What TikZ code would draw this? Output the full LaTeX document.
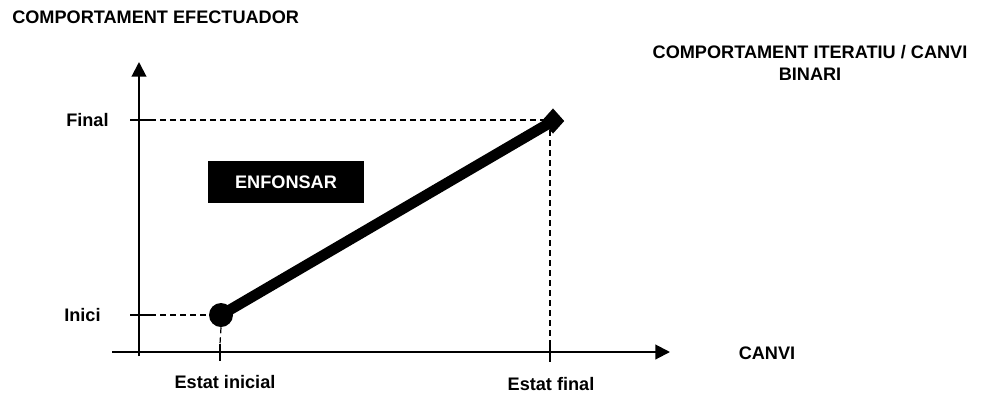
\documentclass[tikz,border=0pt]{standalone}
\usepackage{fontspec}
\setmainfont{Liberation Sans}
\usetikzlibrary{arrows.meta,shapes.geometric}
\begin{document}
\begin{tikzpicture}[x=0.75pt,y=-0.75pt,
  lbl/.style={font=\fontsize{13.6}{16}\selectfont\bfseries, inner sep=0pt},
  axis/.style={line width=1.5pt, -{Triangle[length=11pt,width=11pt]}},
  tickmark/.style={line width=2.2pt},
  guide/.style={line width=0.9pt, dash pattern=on 4.5pt off 3pt},
  pathline/.style={line width=8pt},
  startdot/.style={circle, fill=black, minimum size=18pt, inner sep=0pt},
  enddot/.style={diamond, fill=black, minimum width=17pt, minimum height=19pt, inner sep=0pt},
  tagbox/.style={fill=black, text=white, minimum width=117pt, minimum height=31pt, inner sep=0pt}]
\useasboundingbox (0,0) rectangle (982,394);

% axes
\coordinate (ybot) at (139,356);
\coordinate (ytop) at (139,62);
\coordinate (xleft) at (112,352);
\coordinate (xright) at (670,352);
\draw[axis] (ybot) -- (ytop);
\draw[axis] (xleft) -- (xright);

% tick marks
\coordinate (tfa) at (130,120); \coordinate (tfb) at (150,120);
\coordinate (tia) at (130,315); \coordinate (tib) at (150,315);
\coordinate (tsa) at (220,344); \coordinate (tsb) at (220,361);
\coordinate (tea) at (550,344); \coordinate (teb) at (550,362);
\draw[tickmark] (tfa) -- (tfb);
\draw[tickmark] (tia) -- (tib);
\draw[tickmark] (tsa) -- (tsb);
\draw[tickmark] (tea) -- (teb);

% start and end states
\node[startdot] (start) at (221,315) {};
\node[enddot] (end) at (553,121) {};

% guide lines
\coordinate (gend) at (550,120);
\draw[guide] (tfb) -- (gend);
\draw[guide] (gend) -- (tea);
\draw[guide] (tib) -- (start.west);
\draw[guide] (start.south) -- (tsa);

% transition
\draw[pathline] (start.center) -- (end.center);

% labels
\node[lbl, anchor=west] (title) at (12,17) {COMPORTAMENT EFECTUADOR};
\node[lbl, align=center] (title2) at (810,63) {COMPORTAMENT ITERATIU / CANVI\\[1pt]BINARI};
\node[lbl, anchor=west] (lfinal) at (66,120) {Final};
\node[lbl, anchor=west] (linici) at (64,315) {Inici};
\node[lbl] (lcanvi) at (767,353) {CANVI};
\node[lbl] (lsi) at (225,382) {Estat inicial};
\node[lbl] (lsf) at (551,384) {Estat final};
\node[tagbox, lbl, minimum width=117pt, minimum height=31pt] (tag) at (286,182) {ENFONSAR};
\end{tikzpicture}
\end{document}
